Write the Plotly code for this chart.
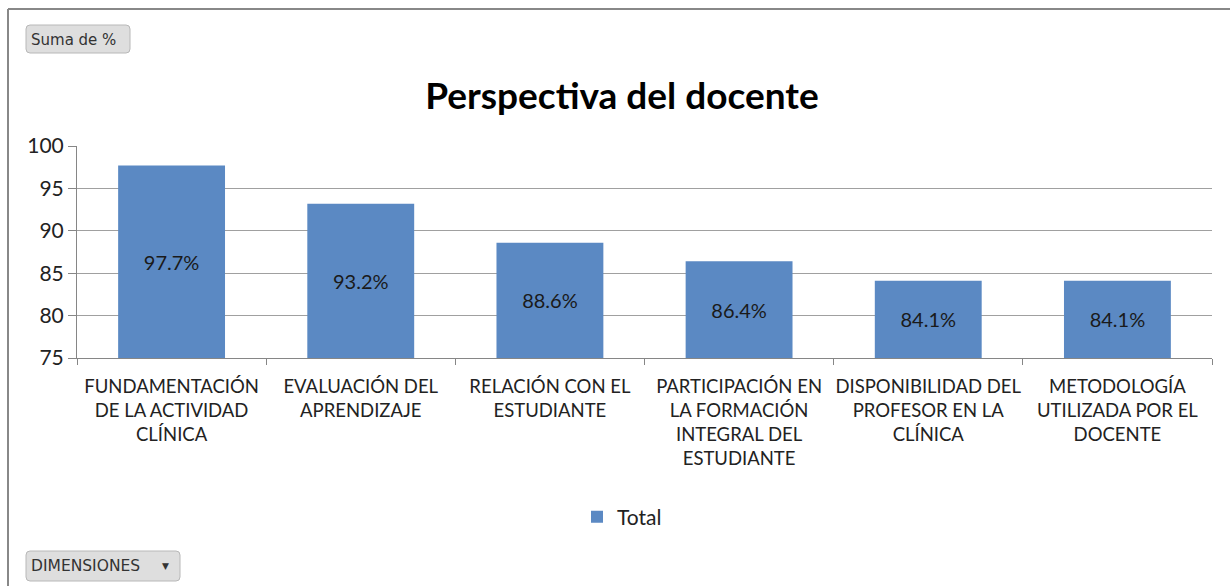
import plotly.graph_objects as go

categories = [
    "FUNDAMENTACIÓN<br>DE LA ACTIVIDAD<br>CLÍNICA",
    "EVALUACIÓN DEL<br>APRENDIZAJE",
    "RELACIÓN CON EL<br>ESTUDIANTE",
    "PARTICIPACIÓN EN<br>LA FORMACIÓN<br>INTEGRAL DEL<br>ESTUDIANTE",
    "DISPONIBILIDAD DEL<br>PROFESOR EN LA<br>CLÍNICA",
    "METODOLOGÍA<br>UTILIZADA POR EL<br>DOCENTE",
]
values = [97.7, 93.2, 88.6, 86.4, 84.1, 84.1]
labels = [f"{v:.1f}%" for v in values]
y_ticks = [75, 80, 85, 90, 95, 100]

W, H = 1230, 586
L, R, T, B = 77, 1212, 146, 358

def px(x):
    return (x - L) / (R - L)

def py(y):
    return (B - y) / (B - T)

def rrect(x0, y0, x1, y1, r=4):
    pts = [
        ("M", x0 + r, y0), ("L", x1 - r, y0), ("Q", x1, y0, x1, y0 + r),
        ("L", x1, y1 - r), ("Q", x1, y1, x1 - r, y1), ("L", x0 + r, y1),
        ("Q", x0, y1, x0, y1 - r), ("L", x0, y0 + r), ("Q", x0, y0, x0 + r, y0),
    ]
    s = ""
    for p in pts:
        if p[0] == "Q":
            s += f"Q {px(p[1])},{py(p[2])} {px(p[3])},{py(p[4])} "
        else:
            s += f"{p[0]} {px(p[1])},{py(p[2])} "
    return s + "Z"

FONT = "Lato"
BLUE = "#5B89C3"

fig = go.Figure()
fig.add_trace(go.Bar(
    x=categories, y=[v - 75 for v in values], base=75,
    name="Total", marker=dict(color=BLUE, line=dict(width=0)),
    text=labels, textposition="inside", insidetextanchor="middle",
    textfont=dict(family=FONT, size=20, color="#1a1a1a"),
    hoverinfo="skip",
))

fig.update_layout(
    width=W, height=H,
    margin=dict(l=L, r=W - R, t=T, b=H - B, autoexpand=False),
    paper_bgcolor="white", plot_bgcolor="white",
    bargap=0.435,
    font=dict(family=FONT, size=18.5, color="#222222"),
    title=dict(text="<b>Perspectiva del docente</b>", x=px(622), xref="paper",
               y=1 - 96 / H, yref="container", xanchor="center", yanchor="middle",
               font=dict(family=FONT, size=37, color="black")),
    showlegend=True,
    legend=dict(orientation="h", x=px(622), y=py(517), xanchor="center", yanchor="middle",
                font=dict(family=FONT, size=21, color="#222222"), itemwidth=30),
    xaxis=dict(type="category", showline=True, linecolor="#868686", linewidth=1,
               ticks="outside", tickson="boundaries", ticklen=6, tickcolor="#868686",
               tickangle=0, ticklabelstandoff=12,
               tickfont=dict(family=FONT, size=18.5, color="#222222"), showgrid=False),
    yaxis=dict(range=[75, 100], tickvals=y_ticks, showline=True, linecolor="#868686",
               linewidth=1, ticks="outside", ticklen=8, tickcolor="#868686",
               ticklabelstandoff=0,
               gridcolor="#a0a0a0", gridwidth=1, zeroline=False,
               tickfont=dict(family=FONT, size=21, color="#222222")),
)

shapes = [
    dict(type="line", xref="paper", yref="paper", x0=px(8), x1=px(8), y0=py(9), y1=py(590),
         line=dict(color="#888888", width=2)),
    dict(type="line", xref="paper", yref="paper", x0=px(8), x1=px(1232), y0=py(9), y1=py(9),
         line=dict(color="#888888", width=2)),
    dict(type="path", xref="paper", yref="paper", path=rrect(26, 25, 130, 53),
         fillcolor="#dedede", line=dict(color="#b8b8b8", width=1), layer="below"),
    dict(type="path", xref="paper", yref="paper", path=rrect(26, 551, 180, 581),
         fillcolor="#dedede", line=dict(color="#b8b8b8", width=1), layer="below"),
]
fig.update_layout(shapes=shapes)

fig.add_annotation(text="Suma de %", xref="paper", yref="paper", x=px(29), y=py(40),
                   xanchor="left", yanchor="middle", showarrow=False,
                   font=dict(family="DejaVu Sans", size=15, color="#333333"))
fig.add_annotation(text="DIMENSIONES", xref="paper", yref="paper", x=px(29), y=py(566),
                   xanchor="left", yanchor="middle", showarrow=False,
                   font=dict(family="DejaVu Sans", size=15.5, color="#333333"))
fig.add_annotation(text="▼", xref="paper", yref="paper", x=px(165), y=py(566),
                   xanchor="center", yanchor="middle", showarrow=False,
                   font=dict(family="DejaVu Sans", size=9, color="#333333"))

fig.write_html("out.html", config={"displayModeBar": False},
               post_script="document.body.style.margin='0';")
